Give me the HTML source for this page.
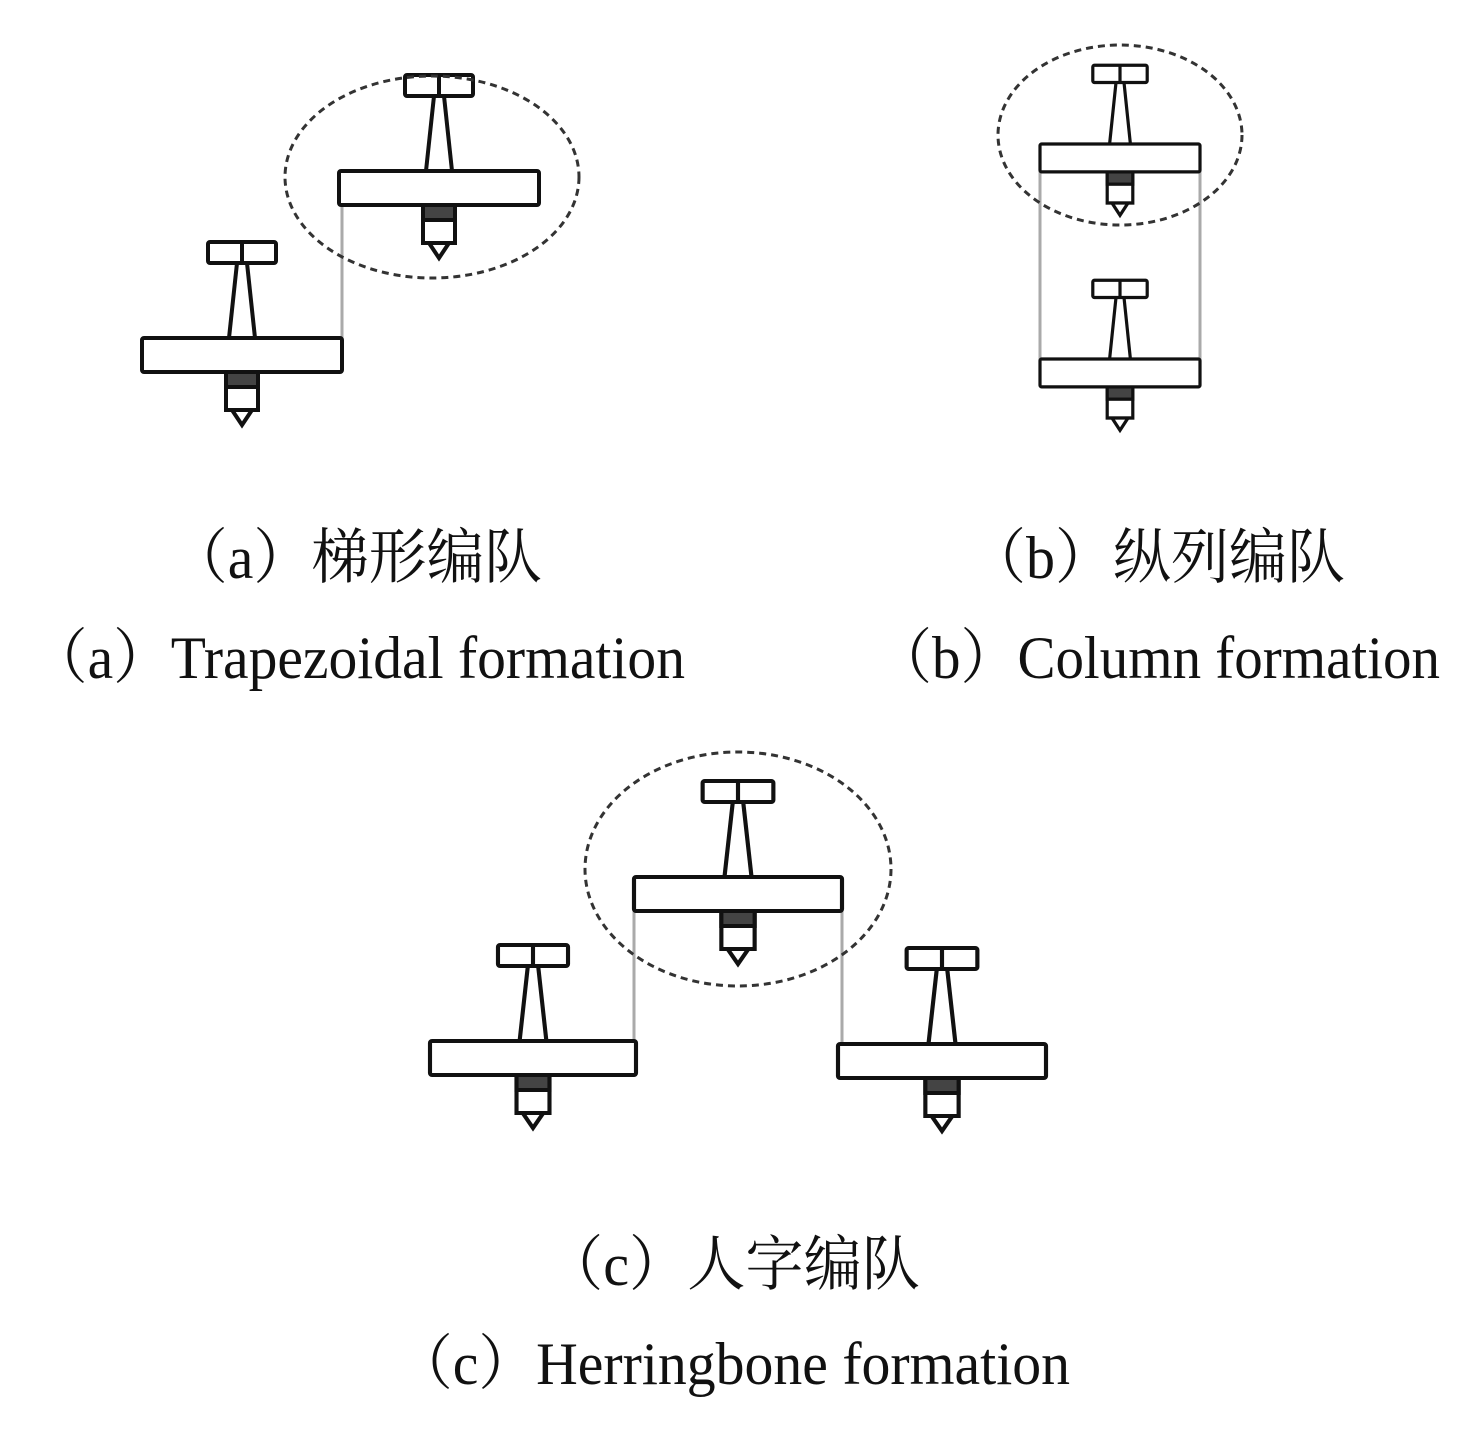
<!DOCTYPE html>
<html><head><meta charset="utf-8"><style>html,body{margin:0;padding:0;background:#fff}</style></head>
<body>
<svg width="1476" height="1427" viewBox="0 0 1476 1427" xmlns="http://www.w3.org/2000/svg">
<defs>
<g id="pl" stroke="#111" stroke-width="4" fill="#fff">
<line x1="-5" y1="-75" x2="-13" y2="0"/>
<line x1="5" y1="-75" x2="13" y2="0"/>
<rect x="-34" y="-96" width="68" height="21" rx="2"/>
<line x1="0" y1="-96" x2="0" y2="-75"/>
<rect x="-16" y="34" width="32" height="38"/>
<rect x="-16" y="34" width="32" height="15" fill="#444"/>
<polygon points="-10,72 10,72 0,87"/>
<rect x="-100" y="0" width="200" height="34" rx="2"/>
</g>
</defs>
<g fill="none" stroke="#aaa" stroke-width="3">
<line x1="342" y1="338" x2="342" y2="185"/>
<line x1="1040" y1="360" x2="1040" y2="155"/>
<line x1="1200" y1="360" x2="1200" y2="155"/>
<line x1="634" y1="1041" x2="634" y2="890"/>
<line x1="842" y1="1044" x2="842" y2="890"/>
</g>
<use href="#pl" transform="translate(242,338)"/>
<use href="#pl" transform="translate(439,171)"/>
<use href="#pl" transform="translate(1120,144) scale(0.8,0.82)"/>
<use href="#pl" transform="translate(1120,359) scale(0.8,0.82)"/>
<use href="#pl" transform="translate(738,877) scale(1.04,1)"/>
<use href="#pl" transform="translate(533,1041) scale(1.03,1)"/>
<use href="#pl" transform="translate(942,1044) scale(1.04,1)"/>
<g fill="none" stroke="#333" stroke-width="3" stroke-dasharray="7,5">
<ellipse cx="432" cy="177" rx="147" ry="101"/>
<ellipse cx="1120" cy="135" rx="122" ry="90"/>
<ellipse cx="738" cy="869" rx="153" ry="117"/>
</g>
<g font-family="'Liberation Serif','Noto Serif CJK SC',serif" font-size="60" fill="#111">
<text x="170" y="578" textLength="372" lengthAdjust="spacingAndGlyphs">（a）梯形编队</text>
<text x="30" y="678" textLength="655" lengthAdjust="spacingAndGlyphs">（a）Trapezoidal formation</text>
<text x="968" y="578" textLength="377" lengthAdjust="spacingAndGlyphs">（b）纵列编队</text>
<text x="875" y="678" textLength="565" lengthAdjust="spacingAndGlyphs">（b）Column formation</text>
<text x="545" y="1285" textLength="375" lengthAdjust="spacingAndGlyphs">（c）人字编队</text>
<text x="395" y="1384" textLength="675" lengthAdjust="spacingAndGlyphs">（c）Herringbone formation</text>
</g>
</svg>
</body></html>
